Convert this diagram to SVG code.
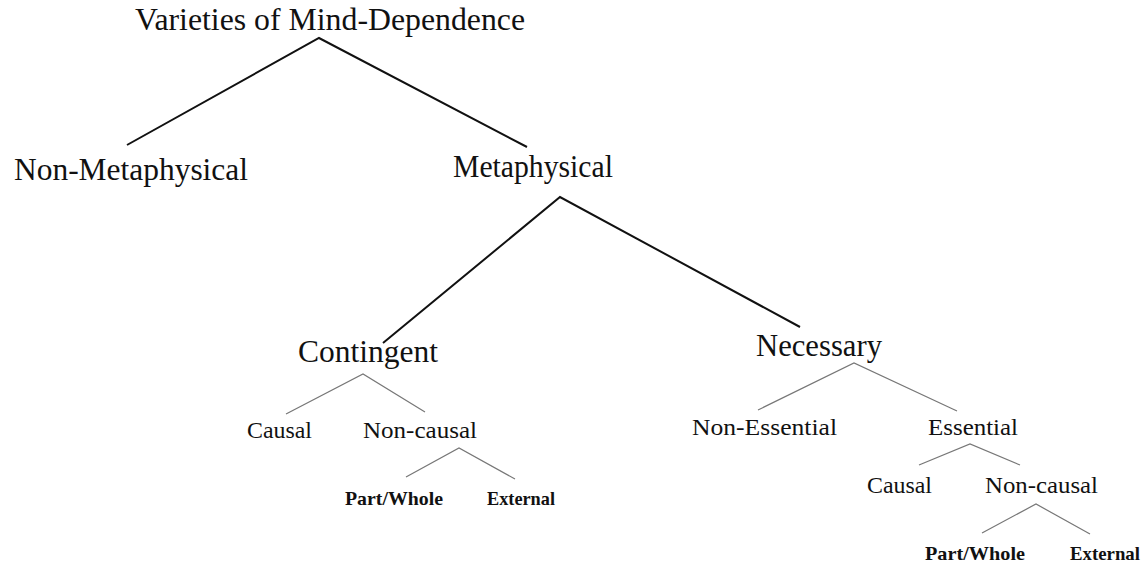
<svg xmlns="http://www.w3.org/2000/svg" width="1144" height="565" viewBox="0 0 1144 565">
<style>
text{font-family:"Liberation Serif","Times New Roman",serif;fill:#111}
.l1{font-size:31px}
.l2{font-size:24px}
.l3{font-size:19px;font-weight:bold}
.c1{stroke:#111;stroke-width:2;fill:none;stroke-linejoin:miter}
.c2{stroke:#777;stroke-width:1.2;fill:none}
</style>
<rect width="1144" height="565" fill="#fff"/>
<g id="connectors">
<path class="c1" d="M127,145 L319,38 L527,147"/>
<path class="c1" d="M383,343 L560,197 L800,327"/>
<path class="c2" d="M286,414 L363,374 L425,412"/>
<path class="c2" d="M406,477 L459,448 L515,479"/>
<path class="c2" d="M758,410 L854,363 L957,411"/>
<path class="c2" d="M919,465 L970,444 L1020,465"/>
<path class="c2" d="M982,533 L1036,504 L1090,534"/>
</g>
<g id="root"><text class="l1" x="135" y="30" textLength="390" lengthAdjust="spacingAndGlyphs">Varieties of Mind-Dependence</text></g>
<g id="non-metaphysical"><text class="l1" x="14" y="180" textLength="234" lengthAdjust="spacingAndGlyphs">Non-Metaphysical</text></g>
<g id="metaphysical"><text class="l1" x="453" y="177" textLength="160" lengthAdjust="spacingAndGlyphs">Metaphysical</text></g>
<g id="contingent"><text class="l1" x="298" y="362" textLength="140" lengthAdjust="spacingAndGlyphs">Contingent</text></g>
<g id="necessary"><text class="l1" x="756" y="356" textLength="126" lengthAdjust="spacingAndGlyphs">Necessary</text></g>
<g id="contingent-causal"><text class="l2" x="247" y="438" textLength="65" lengthAdjust="spacingAndGlyphs">Causal</text></g>
<g id="contingent-noncausal"><text class="l2" x="363" y="438" textLength="114" lengthAdjust="spacingAndGlyphs">Non-causal</text></g>
<g id="contingent-partwhole"><text class="l3" x="345" y="505" textLength="98" lengthAdjust="spacingAndGlyphs">Part/Whole</text></g>
<g id="contingent-external"><text class="l3" x="487" y="505" textLength="68" lengthAdjust="spacingAndGlyphs">External</text></g>
<g id="non-essential"><text class="l2" x="692" y="435" textLength="145" lengthAdjust="spacingAndGlyphs">Non-Essential</text></g>
<g id="essential"><text class="l2" x="928" y="435" textLength="90" lengthAdjust="spacingAndGlyphs">Essential</text></g>
<g id="essential-causal"><text class="l2" x="867" y="493" textLength="65" lengthAdjust="spacingAndGlyphs">Causal</text></g>
<g id="essential-noncausal"><text class="l2" x="985" y="493" textLength="113" lengthAdjust="spacingAndGlyphs">Non-causal</text></g>
<g id="essential-partwhole"><text class="l3" x="925" y="560" textLength="100" lengthAdjust="spacingAndGlyphs">Part/Whole</text></g>
<g id="essential-external"><text class="l3" x="1070" y="560" textLength="70" lengthAdjust="spacingAndGlyphs">External</text></g>
</svg>
